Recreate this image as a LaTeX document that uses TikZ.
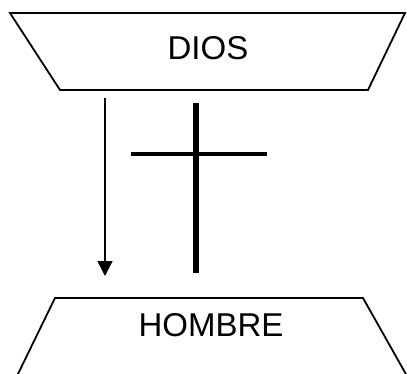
\documentclass[tikz,border=0pt]{standalone}
\usepackage{fontspec}
\setmainfont{Liberation Sans}
\usetikzlibrary{arrows.meta,positioning}

\begin{document}
\begin{tikzpicture}[
  x=1pt,y=-1pt,
  edge/.style={line width=1.8pt,line join=miter},
  label/.style={font=\fontsize{33}{40}\selectfont,inner sep=0pt},
  fl/.style={-{Triangle[width=15pt,length=15pt]},line width=1.5pt},
  ]
  \useasboundingbox (0,0) rectangle (407,374);

  % upper trapezium
  \draw[edge] (60,90) -- (10,13) -- (405,13) -- (368,90) -- cycle;
  \node[label] (dios) at (208,48) {DIOS};

  % lower trapezium, open at the bottom
  \draw[edge] (17,376) -- (55,298) -- (363,298) -- (407,376);
  \node[label] (hombre) at (211,325) {HOMBRE};

  % cross
  \coordinate (crosstop) at (196,103);
  \coordinate (crossfoot) at (196,273);
  \coordinate (armleft) at (131,154);
  \coordinate (armright) at (267,154);
  \draw[line width=6pt] (crosstop) -- (crossfoot);
  \draw[line width=4pt] (armleft) -- (armright);

  \coordinate (arrowtop) at (105,98);
  \coordinate (arrowend) at (105,276);
  \draw[fl] (arrowtop) -- (arrowend);
\end{tikzpicture}
\end{document}
